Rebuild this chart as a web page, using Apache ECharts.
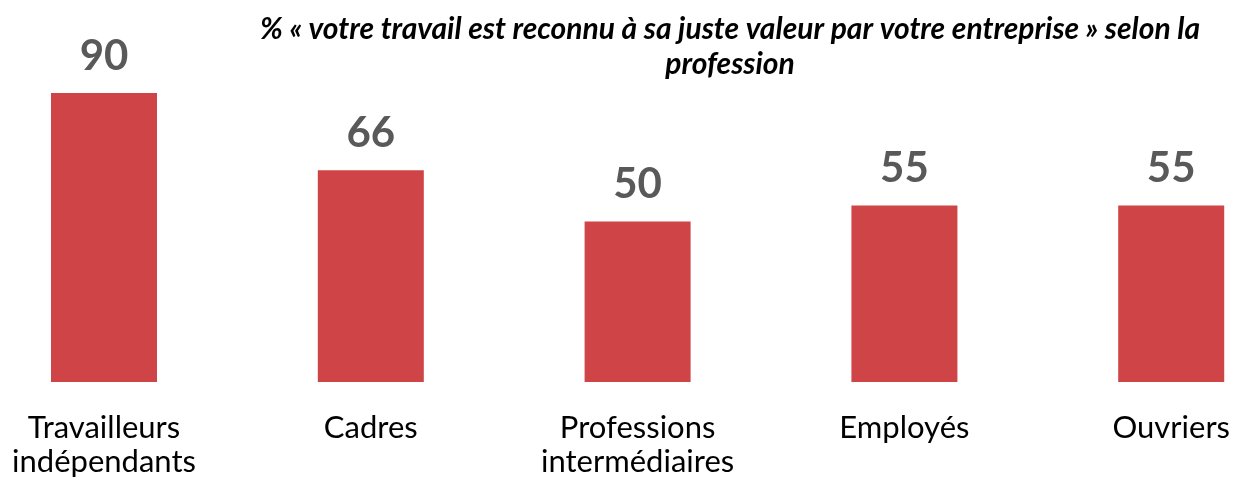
<!DOCTYPE html>
<html>
<head>
<meta charset="utf-8">
<script src="https://cdn.jsdelivr.net/npm/echarts@6/dist/echarts.min.js"></script>
<style>
  html, body { margin: 0; padding: 0; background: #fff; }
  #chart { width: 1233px; height: 483px; }
</style>
</head>
<body>
<div id="chart"></div>
<script>
// categories and values
const categories = ['Travailleurs\nindépendants', 'Cadres', 'Professions\nintermédiaires', 'Employés', 'Ouvriers'];
const values = [90, 66, 50, 55, 55];

const chart = echarts.init(document.getElementById('chart'));

const option = {
  animation: false,
  title: {
    text: '% « votre travail est reconnu à sa juste valeur par votre entreprise » selon la\nprofession',
    left: 725,
    textAlign: 'center',
    top: 7,
    textStyle: {
      fontFamily: 'Lato',
      fontSize: 30,
      fontWeight: 'bold',
      fontStyle: 'italic',
      color: '#000',
      lineHeight: 35
    }
  },
  grid: {
    left: 104,
    right: 60,
    top: 61,
    bottom: 101
  },
  xAxis: {
    type: 'category',
    data: categories,
    boundaryGap: false,
    axisLine: { show: false },
    axisTick: { show: false },
    axisLabel: {
      margin: 29,
      interval: 0,
      fontFamily: 'Lato',
      fontSize: 31,
      lineHeight: 34,
      color: '#000'
    }
  },
  yAxis: {
    type: 'value',
    min: 0,
    max: 100,
    show: false
  },
  series: [
    {
      type: 'bar',
      data: values,
      barWidth: 106,
      itemStyle: { color: '#cf4446' },
      label: {
        show: true,
        position: 'top',
        distance: 16,
        fontFamily: 'Lato',
        fontSize: 42,
        fontWeight: 'bold',
        color: '#595959'
      }
    }
  ]
};

chart.setOption(option);
</script>
</body>
</html>
